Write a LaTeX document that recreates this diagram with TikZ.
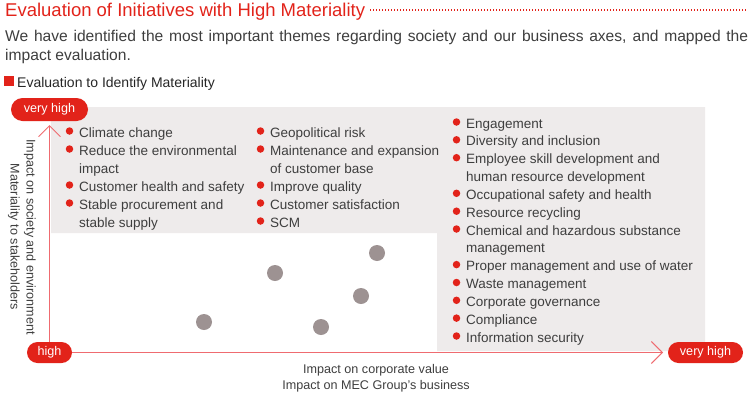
\documentclass[tikz,border=0pt]{standalone}
\usepackage{fontspec}
\setmainfont{Liberation Sans}
\usetikzlibrary{arrows.meta}
\definecolor{mred}{HTML}{E2231A}
\definecolor{axred}{HTML}{EF6B70}
\definecolor{bandgray}{HTML}{EEEBEB}
\definecolor{txtgray}{HTML}{3E3E3E}
\definecolor{dotgray}{HTML}{9D9292}
\begin{document}
\begin{tikzpicture}[x=1pt,y=-1pt,
  itemtext/.style={anchor=base west, inner sep=0pt, font=\fontsize{13.5}{18}\selectfont, text=txtgray},
  bulletdot/.style={circle, fill=mred, inner sep=0pt, minimum size=7.5pt},
  pill/.style={rounded corners=10.5pt, fill=mred, text=white, font=\fontsize{12.6}{14}\selectfont, inner sep=0pt, minimum height=21pt},
  axisline/.style={draw=axred, line width=0.9pt},
  matdot/.style={circle, fill=dotgray, inner sep=0pt, minimum size=16pt},
  axlabel/.style={inner sep=0pt, align=center, font=\fontsize{12.6}{16}\selectfont, text=txtgray}]
\useasboundingbox (0,0) rectangle (752,394);

% title
\node[anchor=base west, inner sep=0pt, text=mred, font=\fontsize{18.5}{22}\selectfont] (title) at (5,16.5) {Evaluation of Initiatives with High Materiality};
\coordinate (dotend) at (748,10);
\draw[mred, line width=1.2pt, dash pattern=on 1.2pt off 1.8pt] ([xshift=5pt,yshift=6.5pt]title.base east) -- (dotend);

% intro
\node[anchor=base west, inner sep=0pt, text width=743pt, align=justify, text=txtgray, font=\fontsize{15.6}{19.5}\selectfont] (intro) at (5,41) {We have identified the most important themes regarding society and our business axes, and mapped the\linebreak impact evaluation.};

% subheading
\node[fill=mred, minimum size=10pt, inner sep=0pt] (subsq) at (8.5,81) {};
\node[anchor=base west, inner sep=0pt, font=\fontsize{14}{16}\selectfont, text=black!85] (sub) at (17,87) {Evaluation to Identify Materiality};

% gray area
\fill[bandgray] (51,107) -- (705,107) -- (705,351) -- (437,351) -- (437,233) -- (51,233) -- cycle;

% pills and axes
\node[pill, minimum width=77pt, minimum height=23pt, rounded corners=11.5pt] (vhy) at (49.5,109.5) {very high};
\node[pill, minimum width=45pt] (hi) at (49.5,352.5) {high};
\node[pill, minimum width=75pt] (vhx) at (705.5,352.5) {very high};
\coordinate (ytip) at (49.5,125);
\coordinate (xtip) at (663,352.5);
\draw[axisline, -{Straight Barb[length=11pt,width=22pt]}] (hi.north) -- (ytip);
\draw[axisline, -{Straight Barb[length=11pt,width=22pt]}] (hi.east) -- (xtip);

% axis labels
\node[axlabel, anchor=base] (xlab) at (376,389) {Impact on corporate value\\Impact on MEC Group’s business};
\node[axlabel, rotate=-90] (ylab) at (22,237) {Impact on society and environment\\Materiality to stakeholders};

% dots
\node[matdot] (d1) at (204,322) {};
\node[matdot] (d2) at (275,273) {};
\node[matdot] (d3) at (361,296) {};
\node[matdot] (d4) at (321,327) {};
\node[matdot] (d5) at (377,253) {};

% lists
\foreach \tx/\by/\t/\b [count=\i] in {
  79/137/Climate change/1, 79/155/Reduce the environmental/1, 79/173/impact/0,
  79/191/Customer health and safety/1, 79/209/Stable procurement and/1, 79/227/stable supply/0,
  270/137/Geopolitical risk/1, 270/155/Maintenance and expansion/1, 270/173/of customer base/0,
  270/191/Improve quality/1, 270/209/Customer satisfaction/1, 270/227/SCM/1,
  466/128/Engagement/1, 466/145.8/Diversity and inclusion/1, 466/163.7/Employee skill development and/1,
  466/181.5/human resource development/0, 466/199.3/Occupational safety and health/1,
  466/217.2/Resource recycling/1, 466/235/Chemical and hazardous substance/1,
  466/252.8/management/0, 466/270.6/Proper management and use of water/1,
  466/288.5/Waste management/1, 466/306.3/Corporate governance/1,
  466/324.1/Compliance/1, 466/342/Information security/1}{
  \node[itemtext] (L\i) at (\tx,\by) {\t};
  \ifnum\b=1
    \node[bulletdot] (B\i) at (\tx-9.5,\by-6) {};
  \fi
}
\end{tikzpicture}
\end{document}
